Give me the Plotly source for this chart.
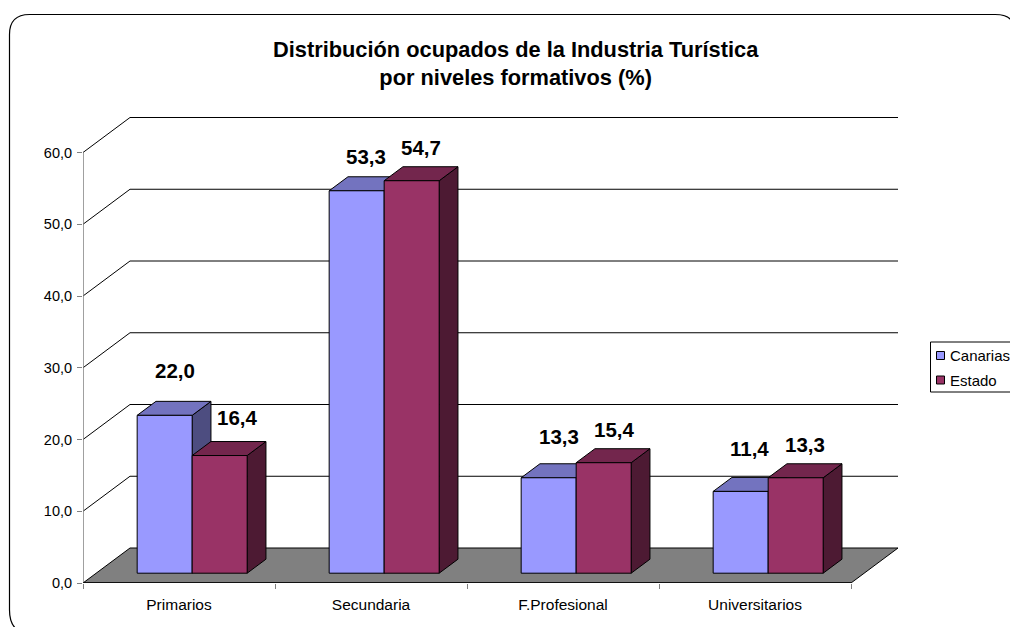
import plotly.graph_objects as go

# ---- data ----
categories = ["Primarios", "Secundaria", "F.Profesional", "Universitarios"]
canarias = [22.0, 53.3, 13.3, 11.4]
estado = [16.4, 54.7, 15.4, 13.3]
y_ticks = [0, 10, 20, 30, 40, 50, 60]
y_labels = ["0,0", "10,0", "20,0", "30,0", "40,0", "50,0", "60,0"]
title_text = "<b>Distribución ocupados de la Industria Turística<br>por niveles formativos (%)</b>"

# ---- layout constants (pixels) ----
W, H = 1010, 627
L, R_EDGE, TOP, BOT = 83, 898, 117, 583
CAT_PX, VAL_PX = 192.0, 7.175
DEPTH_X, DEPTH_Y = 47.0, 35.0
BAR_W = 55.0 / CAT_PX
D0, D1 = 0.28, 0.68

series = [
    dict(name="Canarias", vals=canarias, front="#9999FF", top="#7373BF", side="#4D4D80", off=-BAR_W),
    dict(name="Estado", vals=estado, front="#993366", top="#73264D", side="#4D1A33", off=0.0),
]
# label offsets from bar's front-top centre (px), as Excel placed them
label_dx = [[10, 9, 10, 9], [17, 9, 10, 9]]
label_dy = [[45, 34, 41, 43], [38, 33, 33, 33]]


def proj(cx, val, depth):
    """Category units / value units / depth 0..1 -> axis coordinates."""
    return cx + depth * DEPTH_X / CAT_PX, val + depth * DEPTH_Y / VAL_PX


def px(x):
    return (x - L) / (R_EDGE - L)


def py(y):
    return (BOT - y) / (BOT - TOP)


fig = go.Figure()


def poly(points, fill, line="#000000", width=1):
    xs, ys = zip(*(proj(*p) for p in points + [points[0]]))
    fig.add_trace(go.Scatter(x=xs, y=ys, mode="lines", fill="toself", fillcolor=fill,
                             line=dict(color=line, width=width), showlegend=False,
                             hoverinfo="skip"))


n = len(categories)
# floor
poly([(0, 0, 0), (n, 0, 0), (n, 0, 1), (0, 0, 1)], "#808080")

# gridlines: floor of wall + side wall + back wall
gx, gy = [], []
for v in y_ticks[1:]:
    for p in [(0, v, 0), (0, v, 1), (n, v, 1)]:
        a, b = proj(*p)
        gx.append(a)
        gy.append(b)
    gx.append(None)
    gy.append(None)
fig.add_trace(go.Scatter(x=gx, y=gy, mode="lines", line=dict(color="#000000", width=1),
                         showlegend=False, hoverinfo="skip"))
# value axis line
fig.add_trace(go.Scatter(x=[0, 0], y=[0, y_ticks[-1]], mode="lines",
                         line=dict(color="#808080", width=1.5), showlegend=False, hoverinfo="skip"))
# category axis line
fig.add_trace(go.Scatter(x=[0, n], y=[0, 0], mode="lines",
                         line=dict(color="#000000", width=1.5), showlegend=False, hoverinfo="skip"))

# bars, back to front / left to right
annotations = []
for i in range(n):
    for k, s in enumerate(series):
        x0 = i + 0.5 + s["off"]
        x1 = x0 + BAR_W
        v = s["vals"][i]
        poly([(x1, 0, D0), (x1, 0, D1), (x1, v, D1), (x1, v, D0)], s["side"])
        poly([(x0, v, D0), (x1, v, D0), (x1, v, D1), (x0, v, D1)], s["top"])
        poly([(x0, 0, D0), (x1, 0, D0), (x1, v, D0), (x0, v, D0)], s["front"])
        ax, ay = proj((x0 + x1) / 2, v, D0)
        annotations.append(dict(x=ax + label_dx[k][i] / CAT_PX, y=ay + label_dy[k][i] / VAL_PX,
                                xref="x", yref="y", text=f"<b>{v:.1f}</b>".replace(".", ","),
                                showarrow=False, font=dict(size=20.5, color="#000000"),
                                xanchor="center", yanchor="middle"))

# title
annotations.append(dict(x=px(516), y=py(63), xref="paper", yref="paper", text=title_text,
                        showarrow=False, align="center", xanchor="center", yanchor="middle",
                        font=dict(size=21.8, color="#000000")))

# frame + legend
r = 20
shapes = [dict(type="path", xref="paper", yref="paper",
               path=(f"M {px(9.5)} {py(14.5 + r)} Q {px(9.5)} {py(14.5)} {px(9.5 + r)} {py(14.5)} "
                     f"L {px(1000 - 5)} {py(14.5)} Q {px(1009)} {py(14.5)} {px(1012)} {py(22)} "
                     f"M {px(9.5)} {py(14.5 + r)} L {px(9.5)} {py(610)} "
                     f"Q {px(9.5)} {py(628)} {px(22)} {py(632)}"),
               line=dict(color="#000000", width=1.2), layer="below"),
          dict(type="rect", xref="paper", yref="paper", x0=px(930.5), x1=px(1015),
               y0=py(342), y1=py(392), line=dict(color="#000000", width=1), fillcolor="#FFFFFF")]
for s, cy in zip(series, (355.5, 380)):
    shapes.append(dict(type="rect", xref="paper", yref="paper", x0=px(936.5), x1=px(944.5),
                       y0=py(cy - 4), y1=py(cy + 4), fillcolor=s["front"],
                       line=dict(color="#000000", width=1)))
    annotations.append(dict(x=px(948), y=py(cy), xref="paper", yref="paper", text=s["name"],
                            showarrow=False, xanchor="left", yanchor="middle",
                            font=dict(size=15, color="#000000")))

fig.update_layout(
    width=W, height=H, autosize=False, showlegend=False,
    paper_bgcolor="#FFFFFF", plot_bgcolor="rgba(0,0,0,0)",
    margin=dict(l=L, r=W - R_EDGE, t=TOP, b=H - BOT, pad=0),
    font=dict(family="Liberation Sans, Arial, sans-serif", color="#000000"),
    annotations=annotations, shapes=shapes,
    xaxis=dict(range=[0, (R_EDGE - L) / CAT_PX], showgrid=False, zeroline=False, showline=False,
               tickmode="array", tickvals=[i + 0.5 for i in range(n)], ticktext=categories,
               ticks="", tickfont=dict(size=15.5), fixedrange=True, ticklabelstandoff=10,
               minor=dict(tickmode="array", tickvals=list(range(n + 1)), ticks="outside", ticklen=5,
                          tickcolor="#808080", tickwidth=1, showgrid=False)),
    yaxis=dict(range=[0, (BOT - TOP) / VAL_PX], showgrid=False, zeroline=False, showline=False,
               tickmode="array", tickvals=y_ticks, ticktext=y_labels, ticks="outside", ticklen=5,
               tickcolor="#808080", tickwidth=1, tickfont=dict(size=14.5), fixedrange=True,
               ticklabelstandoff=2),
)
fig.write_html("out.html", config={"displayModeBar": False},
               post_script="document.body.style.margin='0';document.body.style.overflow='hidden';")
